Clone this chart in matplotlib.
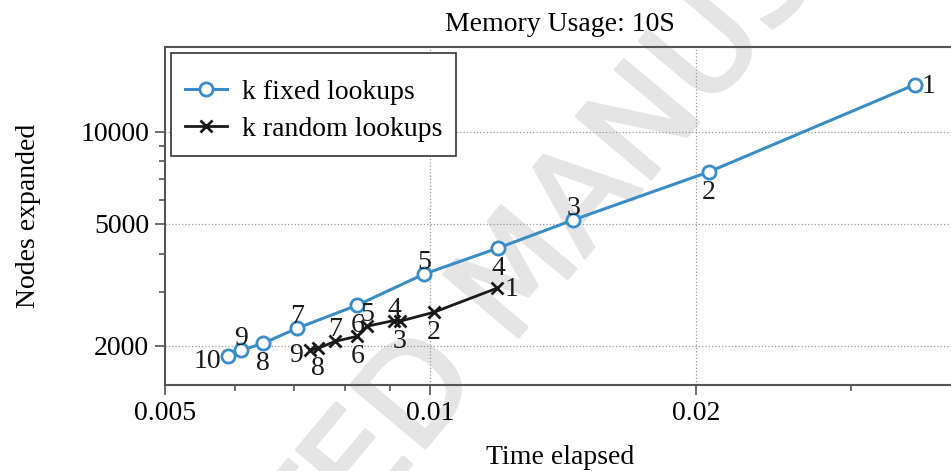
import numpy as np
import matplotlib
matplotlib.use('Agg')
import matplotlib.pyplot as plt
import matplotlib.patheffects as pe
from matplotlib.ticker import FixedLocator, FixedFormatter, NullFormatter

plt.rcParams['font.family'] = ['Liberation Serif', 'DejaVu Serif']
plt.rcParams['font.size'] = 20

# k fixed lookups (k = 1..10)
fixed_k = [1, 2, 3, 4, 5, 6, 7, 8, 9, 10]
fixed_time = [0.03543, 0.02069, 0.01451, 0.01193, 0.00983, 0.00826, 0.00706, 0.00646, 0.00610, 0.00590]
fixed_nodes = [14250, 7397, 5152, 4173, 3430, 2716, 2284, 2040, 1935, 1849]
fixed_where = ['right', 'below', 'above', 'below', 'above', 'below', 'above', 'below', 'above', 'left']

# k random lookups (k = 1..9)
random_k = [1, 2, 3, 4, 5, 6, 7, 8, 9]
random_time = [0.01190, 0.01009, 0.00923, 0.00909, 0.00847, 0.00826, 0.00780, 0.00746, 0.00730]
random_nodes = [3087, 2576, 2407, 2420, 2318, 2150, 2071, 1964, 1935]
random_where = ['right', 'below', 'below', 'above', 'above', 'below', 'above', 'below', 'left']

x_major = [0.005, 0.01, 0.02]
x_major_labels = ['0.005', '0.01', '0.02']
x_minor = [0.006, 0.007, 0.008, 0.009, 0.03]
y_major = [2000, 5000, 10000]
y_major_labels = ['2000', '5000', '10000']
y_minor = [3000, 4000, 6000, 7000, 8000, 9000]

blue = '#3a8dc7'
px = 0.72  # points per pixel at dpi 100

fig = plt.figure(figsize=(9.51, 4.71), dpi=100)
ax = fig.add_axes([165 / 951, 86 / 471, 790 / 951, 338.5 / 471])

ax.plot(fixed_time, fixed_nodes, '-o', color=blue, lw=2.2, ms=9.5, mew=2.0,
        mfc='white', mec=blue, label='k fixed lookups', zorder=3)
ax.plot(random_time, random_nodes, '-x', color='#1a1a1a', lw=2.0, ms=8.5, mew=2.0,
        label='k random lookups', zorder=3)

ax.set_xscale('log')
ax.set_yscale('log')
ax.set_xlim(0.005, 0.03933)
ax.set_ylim(1491, 18970)

ax.xaxis.set_major_locator(FixedLocator(x_major))
ax.xaxis.set_major_formatter(FixedFormatter(x_major_labels))
ax.xaxis.set_minor_locator(FixedLocator(x_minor))
ax.xaxis.set_minor_formatter(NullFormatter())
ax.yaxis.set_major_locator(FixedLocator(y_major))
ax.yaxis.set_major_formatter(FixedFormatter(y_major_labels))
ax.yaxis.set_minor_locator(FixedLocator(y_minor))
ax.yaxis.set_minor_formatter(NullFormatter())

ax.tick_params(which='major', direction='out', length=7.5, width=1.2, color='#555', pad=4)
ax.tick_params(which='minor', direction='out', length=4, width=1.2, color='#555')
for s in ax.spines.values():
    s.set_color('#555')
    s.set_linewidth(1.5)

ax.grid(True, which='major', linestyle=':', color='#999', lw=0.9)
ax.set_axisbelow(True)

ax.set_title('Memory Usage: 10S', fontsize=20, pad=11)
ax.set_xlabel('Time elapsed', labelpad=14)
ax.set_ylabel('Nodes expanded', labelpad=28)

offsets = {
    'above': ((0, 5), 'center'),
    'below': ((0, -27), 'center'),
    'left': ((-7, -12), 'right'),
    'right': ((7, -8), 'left'),
}


def label_points(xs, ys, ks, where):
    for x, y, k, w in zip(xs, ys, ks, where):
        (dx, dy), ha = offsets[w]
        ax.annotate(str(k), (x, y), xytext=(dx * px, dy * px), textcoords='offset points',
                    ha=ha, va='baseline', color='#1a1a1a', zorder=4)


label_points(fixed_time, fixed_nodes, fixed_k, fixed_where)
label_points(random_time, random_nodes, random_k, random_where)

leg = ax.legend(loc='upper left', fancybox=False, framealpha=1, edgecolor='#333',
                handlelength=1.5, handletextpad=0.55, borderaxespad=0.22,
                labelspacing=0.42, borderpad=0.5, title=' ', title_fontsize=1)
leg.get_frame().set_linewidth(1.2)

# watermark
ax.text(522 / 951, 1 - 275 / 471, 'ACCEPTED MANUSCRIPT', transform=fig.transFigure,
        rotation=50, rotation_mode='anchor', ha='center', va='center',
        fontsize=96, family='DejaVu Sans', color='#e5e5e5', zorder=0.5, clip_on=False,
        path_effects=[pe.withStroke(linewidth=2.5, foreground='#e5e5e5')])

fig.savefig('out.png', dpi=100)
